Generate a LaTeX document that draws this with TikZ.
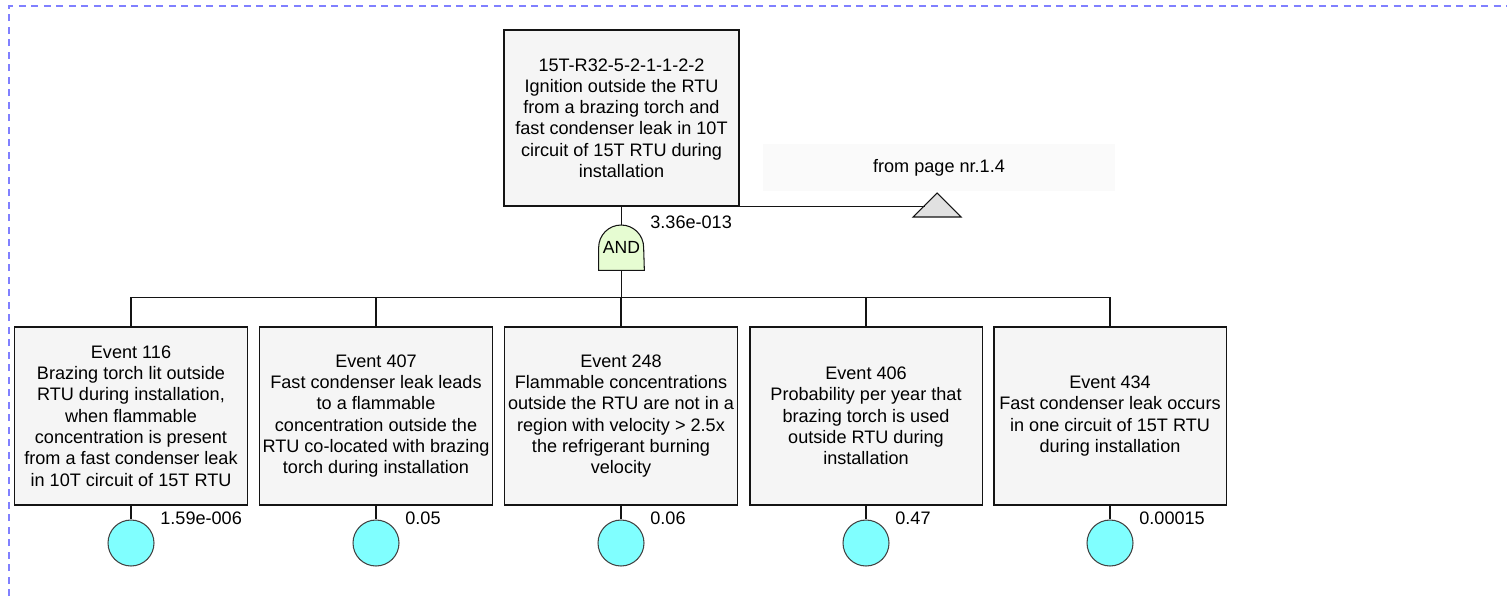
\documentclass[tikz,border=0pt]{standalone}
\usepackage{fontspec}
\setmainfont{Liberation Sans}
\usetikzlibrary{positioning,calc,backgrounds}
\definecolor{boxgray}{RGB}{245,245,245}
\definecolor{gategreen}{RGB}{230,252,210}
\definecolor{basiccyan}{RGB}{128,255,255}
\definecolor{trigray}{RGB}{225,225,225}
\definecolor{frameblue}{RGB}{128,128,255}
\definecolor{ink}{RGB}{20,20,20}
\tikzset{
  event/.style={draw=ink,fill=boxgray,line width=1.1pt,minimum width=4.66cm,
    minimum height=3.56cm,align=center,inner sep=0.5pt,
    font=\fontsize{10.3}{12.1}\selectfont},
  gate/.style={minimum width=0.9cm,minimum height=0.9cm,inner sep=0pt,
    font=\fontsize{10}{12}\selectfont},
  basic/.style={circle,draw=ink!80,fill=basiccyan,line width=0.6pt,
    minimum size=0.92cm,inner sep=0pt},
  prob/.style={anchor=west,inner sep=0pt,font=\fontsize{10.3}{12}\selectfont},
  pagebox/.style={fill=gray!4,minimum width=7.04cm,minimum height=0.94cm,
    inner sep=0pt,font=\fontsize{10.3}{12}\selectfont},
  wire/.style={draw=ink,line width=0.6pt},
  frame/.style={draw=frameblue,line width=0.8pt,dash pattern=on 0.14cm off 0.11cm},
}

\begin{document}
\begin{tikzpicture}[x=0.02cm,y=-0.02cm]
  \useasboundingbox (0,0) rectangle (1507,596);
  \draw[frame] (9,596) -- (9,6) -- (1507,6);
  % top event and its gate
  \node[event,minimum width=4.7cm,minimum height=3.52cm] (top) at (621.5,118)
    {15T-R32-5-2-1-1-2-2\\Ignition outside the RTU\\from a brazing torch and\\fast condenser leak in 10T\\circuit of 15T RTU during\\installation};
  \node[gate] (and) at (621.5,247.5) {AND};
  \begin{scope}[on background layer]
    \draw[wire,fill=gategreen] (and.south west) -- (and.west)
      arc[start angle=180,end angle=0,radius=0.45cm] -- (and.south east) -- cycle;
  \end{scope}
  \draw[wire] (top.south) -- (and.north);
  \node[prob] (ptop) at (650,222) {3.36e-013};
  % transfer in
  \node[pagebox] (page) at (939,167.5) {from page nr.1.4};
  \coordinate (tri) at (937,193);
  \draw[wire,fill=trigray] (tri) -- ++(24,24) -- ++(-48,0) -- cycle;
  \coordinate (trin) at (925,205);
  \draw[wire] (top.south) -- (top.south -| trin);
  % basic events
  \foreach \i/\x/\p/\t in {
    1/131/1.59e-006/{Event 116\\Brazing torch lit outside\\RTU during installation,\\when flammable\\concentration is present\\from a fast condenser leak\\in 10T circuit of 15T RTU},
    2/376/0.05/{Event 407\\Fast condenser leak leads\\to a flammable\\concentration outside the\\RTU co-located with brazing\\torch during installation},
    3/621/0.06/{Event 248\\Flammable concentrations\\outside the RTU are not in a\\region with velocity > 2.5x\\the refrigerant burning\\velocity},
    4/866/0.47/{Event 406\\Probability per year that\\brazing torch is used\\outside RTU during\\installation},
    5/1110/0.00015/{Event 434\\Fast condenser leak occurs\\in one circuit of 15T RTU\\during installation}}{
    \node[event] (ev\i) at (\x,416) {\t};
    \draw[wire] (and.south) -- ++(0,27) -| (ev\i.north);
    \node[basic] (be\i) at (\x,543) {};
    \draw[wire] (ev\i.south) -- (be\i.north);
    \node[prob] (pr\i) at (\x+29,518) {\p};
  }
\end{tikzpicture}
\end{document}
